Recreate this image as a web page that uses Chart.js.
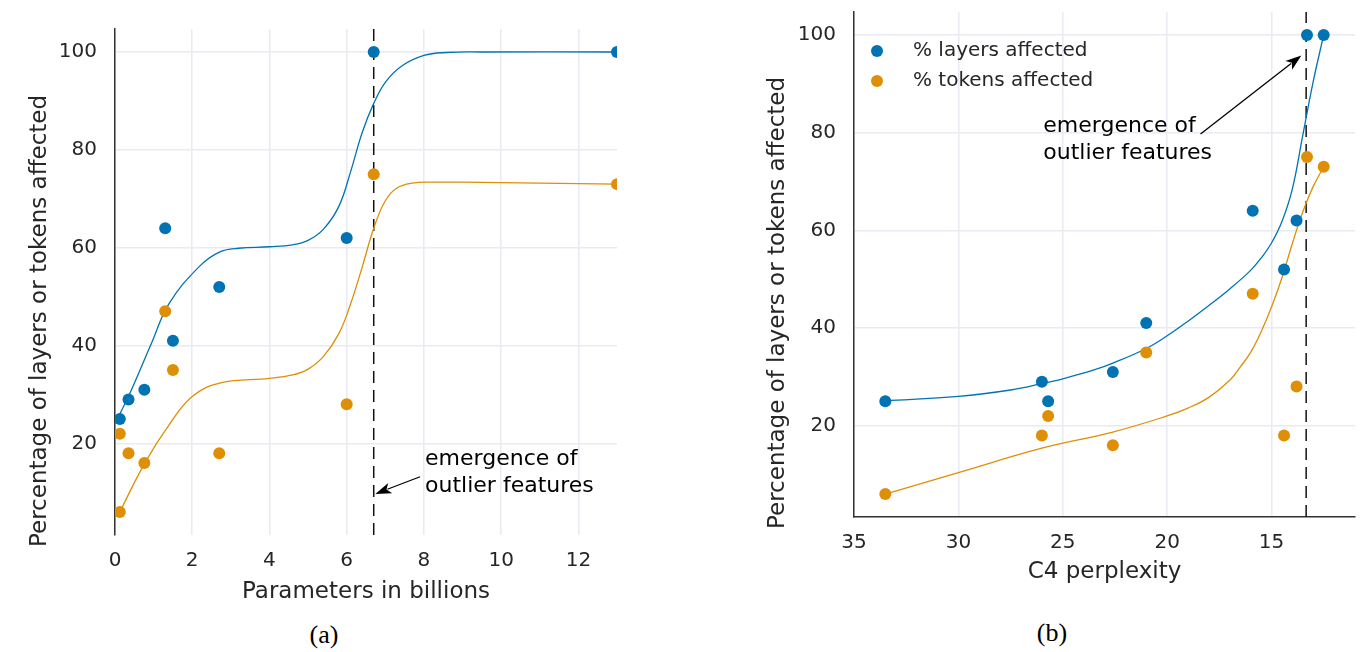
<!DOCTYPE html>
<html>
<head>
<meta charset="utf-8">
<script src="https://cdn.jsdelivr.net/npm/chart.js@4.4.1/dist/chart.umd.min.js"></script>
<style>
  body { margin: 0; background: #fff; width: 1368px; height: 652px; position: relative; overflow: hidden; }
  canvas { position: absolute; top: 0; }
  .cap { position: absolute; font-family: "Liberation Serif", "Times New Roman", serif; font-size: 26px; color: #000; transform: translate(-50%, -50%); }
</style>
</head>
<body>
<canvas id="chartA" width="640" height="610" style="left:0"></canvas>
<canvas id="chartB" width="628" height="600" style="left:740px"></canvas>
<div class="cap" style="left:324px;top:635px">(a)</div>
<div class="cap" style="left:1052px;top:633px">(b)</div>
<script>
Chart.defaults.font.family = "'DejaVu Sans', sans-serif";
Chart.defaults.color = '#262626';

const BLUE = '#0173b2';
const ORANGE = '#de8f05';
const GRID = '#eaeaf2';

// ---- (a) parameters in billions ----
const sizesA = [0.125, 0.35, 0.76, 1.3, 1.5, 2.7, 6.0, 6.7, 13.0];
const layersA = [25, 29, 31, 64, 41, 52, 62, 100, 100];
const tokenSizesA = [0.125, 0.125, 0.35, 0.76, 1.3, 1.5, 2.7, 6.0, 6.7, 13.0];
const tokensA = [22, 6, 18, 16, 47, 35, 18, 28, 75, 73];

// fitted curves
const layersFitXA = [0.125, 0.4, 0.95, 1.4, 2.2, 2.73, 3.2, 4.0, 4.6, 5.0, 5.4, 5.8, 6.1, 6.4, 6.7, 7.0, 7.4, 8.0, 8.6, 9.5, 13.0];
const layersFitYA = [26, 30.5, 40.6, 48.6, 56.3, 59.2, 59.9, 60.2, 60.6, 61.5, 63.8, 68.5, 75.5, 83.5, 89.5, 93.8, 97.0, 99.3, 99.9, 100, 100];
const tokensFitXA = [0.125, 0.77, 1.4, 2.0, 2.73, 4.0, 4.6, 5.0, 5.4, 5.8, 6.1, 6.4, 6.7, 7.0, 7.3, 7.7, 8.2, 9.0, 13.0];
const tokensFitYA = [6, 16, 23.8, 29.6, 32.4, 33.3, 34, 35.2, 37.8, 42.5, 48.5, 56.0, 64.0, 69.6, 72.2, 73.2, 73.4, 73.4, 73];

const xTicksA = [0, 2, 4, 6, 8, 10, 12];
const cutoffA = 6.7;

// ---- (b) C4 perplexity ----
const pplxB = [33.5, 26.0, 25.7, 22.6, 21.0, 15.9, 14.4, 13.8, 13.3, 12.5];
const layersB = [25, 29, 25, 31, 41, 64, 52, 62, 100, 100];
const tokensB = [6, 18, 22, 16, 35, 47, 18, 28, 75, 73];

const layersFitXB = [33.5, 30, 27.5, 26, 25, 23.5, 22.6, 21, 20, 19, 18, 17, 16, 15.5, 15, 14.5, 14, 13.5, 13, 12.5];
const layersFitYB = [25.1, 26.0, 27.3, 28.6, 29.6, 31.4, 32.8, 35.8, 38.4, 41.4, 44.6, 48.0, 51.8, 54.3, 57.4, 61.8, 68.5, 79.5, 90.5, 100];
const tokensFitXB = [33.5, 30, 26, 22.6, 20, 19, 18, 17, 16.5, 16, 15.5, 15, 14.5, 14, 13.5, 13, 12.5];
const tokensFitYB = [6, 10.4, 15.4, 18.7, 22.0, 23.6, 25.8, 29.3, 32.0, 35.0, 39.2, 44.3, 50.3, 57.3, 63.8, 69.0, 73];

const xTicksB = [35, 30, 25, 20, 15];
const cutoffB = 13.34;

const yTicks = [20, 40, 60, 80, 100];
const yMin = 1.3, yMax = 104.7;
const legendLabels = ['% layers affected', '% tokens affected'];

const toXY = (xs, ys) => xs.map((x, i) => ({ x: x, y: ys[i] }));

function dots(xs, ys, color, label) {
  return { label: label, data: toXY(xs, ys), showLine: false, pointRadius: 6, pointBorderWidth: 0,
           pointBackgroundColor: color, order: 0 };
}
function curve(xs, ys, color) {
  return { data: toXY(xs, ys), borderColor: color, borderWidth: 1.3, pointRadius: 0,
           tension: 0.4, order: 1 };
}
function cutoff(x) {
  return { data: [{ x: x, y: yMin }, { x: x, y: yMax }], borderColor: '#111', borderWidth: 1.5,
           borderDash: [12, 7], pointRadius: 0, order: 2 };
}

// axis titles on y, annotation text + arrow, legend
const extras = {
  id: 'extras',
  afterDraw(chart, args, o) {
    const { ctx, chartArea: a, scales: { x, y } } = chart;

    ctx.save();
    ctx.fillStyle = '#262626';
    ctx.font = "23px 'DejaVu Sans'";
    ctx.textAlign = 'center';
    ctx.textBaseline = 'middle';
    ctx.translate(o.yTitle.x, o.yTitle.y);
    ctx.rotate(-Math.PI / 2);
    ctx.fillText(o.yTitle.text, 0, 0);
    ctx.restore();

    const n = o.note;
    ctx.save();
    ctx.fillStyle = '#000';
    ctx.strokeStyle = '#000';
    ctx.font = "22px 'DejaVu Sans'";
    ctx.textAlign = 'left';
    ctx.textBaseline = 'middle';
    n.lines.forEach((t, i) => ctx.fillText(t, x.getPixelForValue(n.x), y.getPixelForValue(n.y) + i * 27));
    const x0 = x.getPixelForValue(n.from[0]), y0 = y.getPixelForValue(n.from[1]);
    const x1 = x.getPixelForValue(n.to[0]), y1 = y.getPixelForValue(n.to[1]);
    const ang = Math.atan2(y1 - y0, x1 - x0);
    const c = Math.cos(ang), s = Math.sin(ang);
    const L = 16, W = 5.5;
    const bx = x1 - L * c, by = y1 - L * s;
    ctx.lineWidth = 1.3;
    ctx.beginPath();
    ctx.moveTo(x0, y0);
    ctx.lineTo(bx + 3 * c, by + 3 * s);
    ctx.stroke();
    ctx.beginPath();
    ctx.moveTo(x1, y1);
    ctx.lineTo(bx - W * s, by + W * c);
    ctx.lineTo(bx + 4 * c, by + 4 * s);
    ctx.lineTo(bx + W * s, by - W * c);
    ctx.closePath();
    ctx.fill();
    ctx.restore();

    if (o.legend) {
      const colors = [BLUE, ORANGE];
      ctx.save();
      ctx.font = "20px 'DejaVu Sans'";
      ctx.textAlign = 'left';
      ctx.textBaseline = 'middle';
      legendLabels.forEach((lab, i) => {
        const ly = a.top + 39 + i * 30;
        ctx.fillStyle = colors[i];
        ctx.beginPath();
        ctx.arc(a.left + 23, ly, 6, 0, Math.PI * 2);
        ctx.fill();
        ctx.fillStyle = '#262626';
        ctx.fillText(lab, a.left + 59, ly);
      });
      ctx.restore();
    }
  }
};

function fixed(prop, size) {
  return s => {
    s[prop] = size;
    s.paddingTop = 0; s.paddingBottom = 0; s.paddingLeft = 0; s.paddingRight = 0;
  };
}

function makeChart(id, cfg) {
  return new Chart(document.getElementById(id), {
    type: 'line',
    data: { datasets: cfg.datasets },
    plugins: [extras],
    options: {
      responsive: false,
      animation: false,
      events: [],
      layout: { padding: cfg.padding },
      plugins: { legend: { display: false }, tooltip: { enabled: false }, extras: cfg.extras },
      scales: {
        x: {
          type: 'linear', min: cfg.xMin, max: cfg.xMax, reverse: cfg.reverse,
          afterBuildTicks: s => { s.ticks = cfg.xTicks.map(v => ({ value: v })); },
          afterFit: fixed('height', cfg.xHeight),
          grid: { color: GRID, lineWidth: 1.5, drawTicks: false },
          border: { display: cfg.xBorder, color: '#333', width: 1.5 },
          ticks: { font: { size: 20 }, padding: 14, color: '#262626' },
          title: { display: true, text: cfg.xTitle, font: { size: 23 }, color: '#262626',
                   padding: { top: 0, bottom: cfg.xTitlePad } }
        },
        y: {
          type: 'linear', min: yMin, max: yMax,
          afterBuildTicks: s => { s.ticks = yTicks.map(v => ({ value: v })); },
          afterFit: fixed('width', cfg.yWidth),
          grid: { color: GRID, lineWidth: 1.5, drawTicks: false },
          border: { display: true, color: '#333', width: 1.5 },
          ticks: { font: { size: 20 }, padding: 18, color: '#262626' }
        }
      }
    }
  });
}

makeChart('chartA', {
  datasets: [
    dots(sizesA, layersA, BLUE, legendLabels[0]),
    dots(tokenSizesA, tokensA, ORANGE, legendLabels[1]),
    curve(layersFitXA, layersFitYA, BLUE),
    curve(tokensFitXA, tokensFitYA, ORANGE),
    cutoff(cutoffA)
  ],
  padding: { left: 0, right: 23, top: 29, bottom: 0 },
  xMin: 0, xMax: 13, reverse: false, xTicks: xTicksA, xHeight: 75, xBorder: false,
  xTitle: 'Parameters in billions', xTitlePad: 4, yWidth: 115,
  extras: {
    yTitle: { text: 'Percentage of layers or tokens affected', x: 40, y: 321 },
    note: { lines: ['emergence of', 'outlier features'], x: 8.03, y: 16.8, from: [7.9, 13.2], to: [6.74, 9.7] },
    legend: false
  }
});

makeChart('chartB', {
  datasets: [
    dots(pplxB, layersB, BLUE, legendLabels[0]),
    dots(pplxB, tokensB, ORANGE, legendLabels[1]),
    curve(layersFitXB, layersFitYB, BLUE),
    curve(tokensFitXB, tokensFitYB, ORANGE),
    cutoff(cutoffB)
  ],
  padding: { left: 0, right: 13, top: 12, bottom: 0 },
  xMin: 11, xMax: 35, reverse: true, xTicks: xTicksB, xHeight: 83, xBorder: true,
  xTitle: 'C4 perplexity', xTitlePad: 14, yWidth: 114,
  extras: {
    yTitle: { text: 'Percentage of layers or tokens affected', x: 38, y: 303 },
    note: { lines: ['emergence of', 'outlier features'], x: 25.93, y: 81.2, from: [18.4, 79.7], to: [13.57, 95.8] },
    legend: true
  }
});
</script>
</body>
</html>
